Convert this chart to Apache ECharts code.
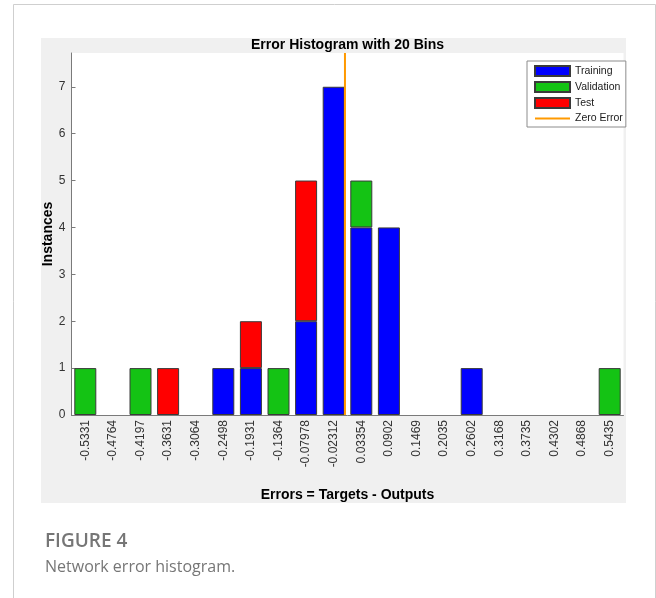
<!DOCTYPE html>
<html>
<head>
<meta charset="utf-8">
<script src="https://cdn.jsdelivr.net/npm/echarts@6/dist/echarts.min.js"></script>
<style>
html,body{margin:0;padding:0;background:#fff;}
#chart{width:656px;height:598px;}
</style>
</head>
<body>
<div id="chart"></div>
<script>
// ---- data ----
const binLabels = ['-0.5331','-0.4764','-0.4197','-0.3631','-0.3064','-0.2498','-0.1931','-0.1364','-0.07978','-0.02312','0.03354','0.0902','0.1469','0.2035','0.2602','0.3168','0.3735','0.4302','0.4868','0.5435'];
const training   = [0,0,0,0,0,1,1,0,2,7,4,4,0,0,1,0,0,0,0,0];
const validation = [1,0,1,0,0,0,0,1,0,0,1,0,0,0,0,0,0,0,0,1];
const test       = [0,0,0,1,0,0,1,0,3,0,0,0,0,0,0,0,0,0,0,0];
const yTicks = [0,1,2,3,4,5,6,7];
const zeroError = 0;
const yMax = 7.72;

const binCenters = binLabels.map(Number);
const binWidth = (binCenters[binCenters.length-1] - binCenters[0]) / (binCenters.length - 1);

const font = "'Liberation Sans', Arial, Helvetica, sans-serif";
const chart = echarts.init(document.getElementById('chart'), null, {renderer:'canvas'});

function nz(arr){ return arr.map(v => v === 0 ? '-' : v); }

const barStyle = (c) => ({color: c, borderColor: '#3a3a3a', borderWidth: 1});
const lineIcon = 'path://M0,0 L0.01,0 M0,4 L35,4 L35,6 L0,6 Z M0,10 L0.01,10';

chart.setOption({
  animation: false,
  backgroundColor: '#ffffff',
  graphic: [
    {type:'rect', z:-10, shape:{x:13.5, y:4.5, width:642, height:700}, style:{fill:'#ffffff', stroke:'#cfcfcf', lineWidth:1}},
    {type:'rect', z:-9, shape:{x:41, y:38, width:585, height:465}, style:{fill:'#f0f0f0'}},
    {type:'text', z:10, x:347.5, y:45, style:{text:'Error Histogram with 20 Bins', font:"bold 14px " + font, fill:'#000', align:'center', verticalAlign:'middle'}},
    {type:'text', z:10, x:45, y:542, style:{text:'FIGURE 4', font:"600 19px 'Open Sans', sans-serif", fill:'#767676', align:'left', verticalAlign:'middle'}},
    {type:'text', z:10, x:45, y:567, style:{text:'Network error histogram.', font:"16px 'Open Sans', sans-serif", fill:'#767676', align:'left', verticalAlign:'middle'}}
  ],
  grid: {left:71.5, right:32.5, top:53, bottom:183, show:true, backgroundColor:'#ffffff', borderWidth:0},
  legend: {
    orient:'vertical', left:527, top:61,
    padding:[4,3,3,7], itemGap:4, itemWidth:35, itemHeight:10,
    backgroundColor:'#ffffff', borderColor:'#8c8c8c', borderWidth:1, borderRadius:0,
    textStyle:{fontFamily:font, fontSize:10.5, lineHeight:10, color:'#1a1a1a'},
    data:[
      {name:'Training', icon:'rect'},
      {name:'Validation', icon:'rect'},
      {name:'Test', icon:'rect'},
      {name:'Zero Error', icon: lineIcon, itemStyle:{color:'#ff9900', borderWidth:0}}
    ]
  },
  xAxis: [
    {
      type:'category', data: binLabels, gridIndex:0,
      name:'Errors = Targets - Outputs', nameLocation:'middle', nameGap:73, nameMoveOverlap:false,
      nameTextStyle:{fontFamily:font, fontSize:14, fontWeight:'bold', color:'#000', lineHeight:14},
      axisLine:{onZero:false, lineStyle:{color:'#7a7a7a', width:1}},
      axisTick:{inside:true, length:5, alignWithLabel:true, lineStyle:{color:'#7a7a7a'}},
      axisLabel:{rotate:90, interval:0, margin:5, fontFamily:font, fontSize:12, color:'#333'},
      splitLine:{show:false}
    },
    {
      type:'value', gridIndex:0, show:false,
      min: binCenters[0] - binWidth/2, max: binCenters[binCenters.length-1] + binWidth/2,
      splitLine:{show:false}
    }
  ],
  yAxis: {
    type:'value', min:0, max:yMax, interval:1,
    name:'Instances', nameLocation:'middle', nameGap:16, nameMoveOverlap:false,
    nameTextStyle:{fontFamily:font, fontSize:14, fontWeight:'bold', color:'#000'},
    axisLine:{show:true, onZero:false, lineStyle:{color:'#7a7a7a', width:1}},
    axisTick:{show:true, inside:true, length:4, customValues:yTicks, lineStyle:{color:'#7a7a7a'}},
    axisLabel:{customValues:yTicks, margin:6, fontFamily:font, fontSize:12, color:'#333'},
    splitLine:{show:false}
  },
  series: [
    {name:'Training', type:'bar', stack:'err', data:nz(training), barWidth:22, itemStyle:barStyle('#0000ff'), z:2},
    {name:'Validation', type:'bar', stack:'err', data:nz(validation), barWidth:22, itemStyle:barStyle('#14c314'), z:2},
    {name:'Test', type:'bar', stack:'err', data:nz(test), barWidth:22, itemStyle:barStyle('#ff0000'), z:2},
    {name:'Zero Error', type:'line', xAxisIndex:1, symbol:'none', z:5,
      lineStyle:{color:'#ff9900', width:2}, itemStyle:{color:'#ff9900'},
      data:[[zeroError,0],[zeroError,yMax]]}
  ]
});
</script>
</body>
</html>
